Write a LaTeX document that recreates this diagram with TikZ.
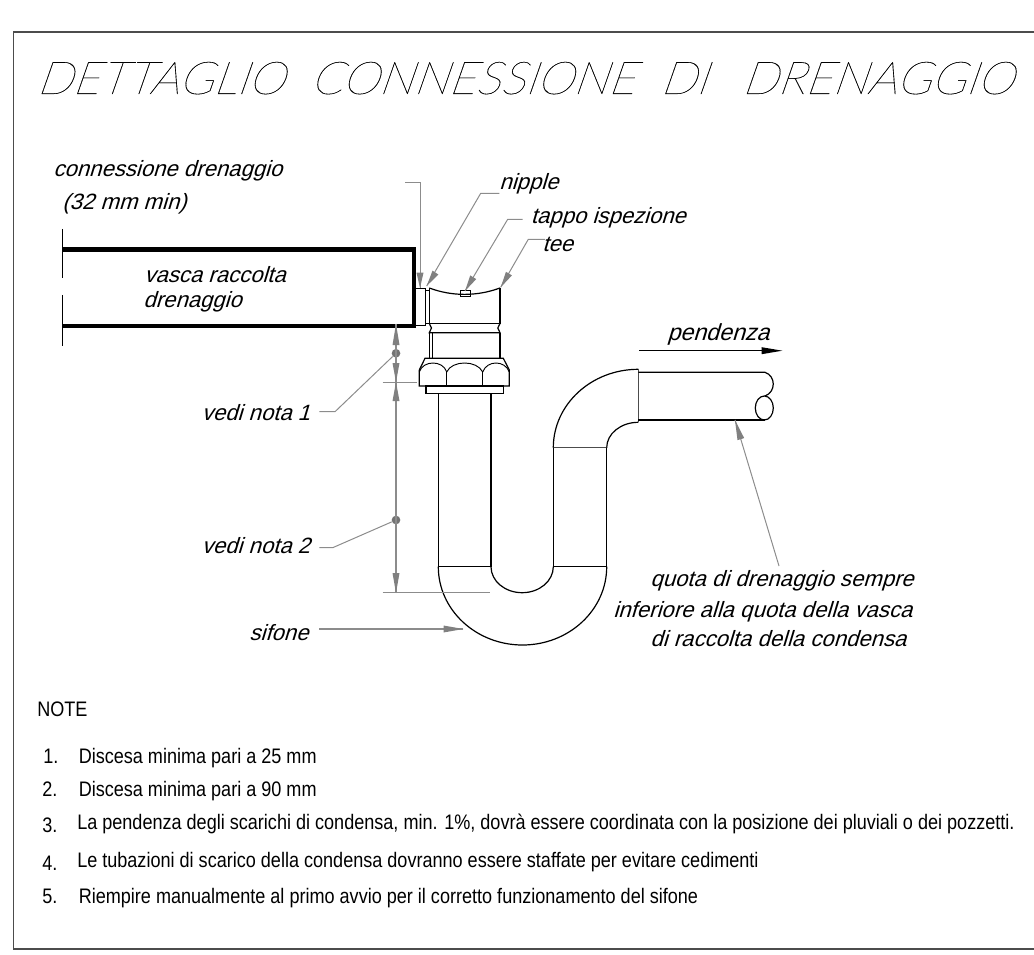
\documentclass[tikz,border=0pt]{standalone}
\usepackage{fontspec}
\setmainfont{Liberation Sans}
\newfontfamily\labelfont[FakeSlant=0.3]{Liberation Sans}
\newfontfamily\notefont[FakeStretch=0.86]{Liberation Sans}
\newfontfamily\titlefont[FakeSlant=0.35,FakeStretch=1.03,FakeBold=0.25]{Lato Hairline}
\tikzset{
  pipeline/.style={draw=black,line width=0.9pt},
  thinline/.style={draw=black,line width=0.7pt},
  leader/.style={draw=black!45,line width=0.75pt},
  dimhead/.style={fill=black!50,draw=none},
  dimdot/.style={circle,fill=black!55,draw=none,inner sep=0pt,minimum size=6.5pt},
  calllabel/.style={font=\labelfont\fontsize{16.6}{18}\selectfont,inner sep=0pt,anchor=base west},
  notelabel/.style={font=\notefont\fontsize{15.75}{17}\selectfont,inner sep=0pt,anchor=base west},
}
\newcommand{\dimtip}[2]{\fill[dimhead] (#1) -- ([shift={(-3.5,#2)}]#1) -- ([shift={(3.5,#2)}]#1) -- cycle;}
\begin{document}
\begin{tikzpicture}[x=0.75pt,y=0.75pt,yscale=-1,xscale=1]
\useasboundingbox (0,0) rectangle (1034,955);

%Shape: Frame
\draw [draw=black!70,line width=0.8pt] (1034,32) -- (13.5,32) -- (13.5,949) -- (1034,949);

% Text Node
\draw (36,94) node [anchor=base west,inner sep=0pt] (titlelabel) {\titlefont\fontsize{34}{36}\selectfont DETTAGLIO\hspace{19.5pt}CONNESSIONE\hspace{19pt}DI\hspace{26pt}DRENAGGIO};

%Shape: Tank
\draw [line width=3.4pt,line cap=butt,line join=miter] (62,249.5) -- (414,249.5) -- (414,326) -- (62,326);
\draw [thinline] (62,229) -- (62,278) (62,295) -- (62,346);

%Shape: Nipple
\draw [thinline] (416,288.3) -- (425,288.3) -- (425,325.7) -- (416,325.7);
\draw [thinline] (425,290) -- (429.3,290) (425,323.3) -- (429.3,323.3);

%Shape: Tee
\draw [pipeline] (429.3,288) .. controls (452,296.5) and (477,296.5) .. (500,288);
\draw [pipeline] (429.3,288) -- (429.3,323.5) -- (500,323.5) -- (500,288);
\draw [pipeline] (429.3,323.5) -- (431.5,328) -- (429.3,332.7) -- (500,332.7) -- (497.8,328) -- (500,323.5);
\draw [pipeline] (429.3,332.7) -- (429.3,358) (500,332.7) -- (500,358);
\draw [thinline] (432.7,332.7) -- (432.7,358);
\draw [thinline] (460,290.7) rectangle (470,296);

%Shape: Nut
\draw [pipeline] (425,358.3) -- (503.3,358.3) -- (509.3,370) -- (509.3,386) -- (419.3,386) -- (419.3,370) -- cycle;
\draw [thinline] (419.3,372) .. controls (423,360) and (443,360) .. (446.7,372) .. controls (452,360) and (477,360) .. (482.7,372) .. controls (487,360) and (505,360) .. (509.3,372);
\draw [thinline] (446.7,372) -- (446.7,386) (482.7,372) -- (482.7,386);
\draw [pipeline] (426,386) rectangle (503.3,393.3);

%Shape: Trap
\draw [pipeline] (438.3,393.3) -- (438.3,566.7) (491,393.3) -- (491,566.7);
\draw [thinline] (438.3,566.7) -- (491,566.7) (553.3,566.7) -- (606.7,566.7);
\draw [pipeline] (438.3,566.7) arc [start angle=180,end angle=360,x radius=84.2,y radius=-78.3];
\draw [pipeline] (491,566.7) arc [start angle=180,end angle=360,x radius=31.15,y radius=-26];
\draw [pipeline] (553.3,566.7) -- (553.3,447.7) (606.7,566.7) -- (606.7,447.7);
\draw [draw=black!70,line width=1.1pt] (553.3,447.7) -- (606.7,447.7);

%Shape: Elbow
\draw [pipeline] (553.3,447.7) arc [start angle=180,end angle=90,x radius=85,y radius=-78.4];
\draw [pipeline] (606.7,447.7) arc [start angle=180,end angle=90,x radius=31.6,y radius=-25.4];
\draw [draw=black!70,line width=1.1pt] (638.3,369.3) -- (638.3,422.3);

%Shape: Drain pipe
\draw [pipeline] (638.3,372.3) -- (765,372.3) .. controls (776,376) and (776,392) .. (765,396);
\draw [pipeline] (638.3,420) -- (765,420);
\draw [pipeline] (764.3,408) ellipse [x radius=9,y radius=12];

%Shape: Slope arrow
\draw [black,line width=0.7pt] (639.3,350.7) -- (765,350.7);
\fill [black] (782.3,350.7) -- (761.7,347.2) -- (761.7,354.2) -- cycle;

% Text Node
\draw (53,176.7) node [calllabel] (connlabel) {connessione drenaggio};
% Text Node
\draw (62,209.3) node [calllabel] (connminlabel) {(32 mm min)};
% Text Node
\draw (144,283) node [calllabel] (tanklabel) {vasca raccolta};
% Text Node
\draw (143,308) node [calllabel] (tanklabelb) {drenaggio};
% Text Node
\draw (499,190) node [calllabel] (nipplelabel) {nipple};
% Text Node
\draw (530.5,224) node [calllabel] (tappolabel) {tappo ispezione};
% Text Node
\draw (542,252) node [calllabel] (teelabel) {tee};
% Text Node
\draw (667,340.7) node [calllabel,font=\labelfont\fontsize{17.4}{18}\selectfont] (pendenzalabel) {pendenza};
% Text Node
\draw (201.5,420) node [calllabel] (notaalabel) {vedi nota 1};
% Text Node
\draw (201.5,553) node [calllabel] (notablabel) {vedi nota 2};
% Text Node
\draw (249,640) node [calllabel] (sifonelabel) {sifone};
% Text Node
\draw (650,586) node [calllabel] (quotaalabel) {quota di drenaggio sempre};
% Text Node
\draw (613,617) node [calllabel] (quotablabel) {inferiore alla quota della vasca};
% Text Node
\draw (650,646.7) node [calllabel] (quotaclabel) {di raccolta della condensa};

%Straight Lines
\coordinate (conntip) at (420,288);
\coordinate (nippletip) at (426.7,286);
\coordinate (tappotip) at (465,291);
\coordinate (teetip) at (500.7,287.3);
\coordinate (quotatip) at (735,420);
\coordinate (sifonetip) at (463.3,629);
\node [dimdot] (notaadot) at (396,353.3) {};
\node [dimdot] (notabdot) at (396,520) {};

\draw [leader] (405,182.3) -- (420,182.3) -- (conntip);
\draw [leader] (499.3,193.3) -- (480.7,193.3) -- (nippletip);
\draw [leader] (522.7,219.3) -- (507.7,219.3) -- (tappotip);
\draw [leader] (545,239.3) -- (528.3,239.3) -- (teetip);
\draw [leader] (779,566) -- (quotatip);
\draw [leader,line width=1pt] (319.3,629) -- (sifonetip);
\draw [leader] (319.3,411.7) -- (335,411.7) -- (notaadot);
\draw [leader] (319.3,547.7) -- (332.7,547.7) -- (notabdot);
\fill [dimhead] (conntip) -- (416.5,272.7) -- (423.5,272.7) -- cycle;
\fill [dimhead,rotate around={33:(nippletip)}] (nippletip) -- ++(-3.5,-16) -- ++(7,0) -- cycle;
\fill [dimhead,rotate around={31:(tappotip)}] (tappotip) -- ++(-3.5,-16) -- ++(7,0) -- cycle;
\fill [dimhead,rotate around={31:(teetip)}] (teetip) -- ++(-3.5,-16) -- ++(7,0) -- cycle;
\fill [dimhead,rotate around={-17:(quotatip)}] (quotatip) -- ++(-3.5,20) -- ++(7,0) -- cycle;
\fill [dimhead] (sifonetip) -- (443.5,625.5) -- (443.5,632.5) -- cycle;

%Shape: Dimension lines
\draw [leader,line width=1pt] (396,324) -- (396,593);
\draw [leader] (382.7,382) -- (416.7,382) (382.7,592.3) -- (490,592.3);
\coordinate (dimtop) at (396,324);
\coordinate (dimmid) at (396,382);
\coordinate (dimbot) at (396,593);
\dimtip{dimtop}{21}
\dimtip{dimmid}{-19}
\dimtip{dimmid}{19}
\dimtip{dimbot}{-20}

% Text Node
\draw (37,716) node [notelabel] (notehead) {NOTE};
% Text Node
\draw (43,763) node [notelabel] (numa) {1.};
\draw (78.5,763) node [notelabel] (notea) {Discesa minima pari a 25 mm};
% Text Node
\draw (42,796.7) node [notelabel] (numb) {2.};
\draw (78.5,796.7) node [notelabel] (noteb) {Discesa minima pari a 90 mm};
% Text Node
\draw (42,832) node [notelabel] (numc) {3.};
\draw (77,829) node [notelabel] (notec) {La pendenza degli scarichi di condensa, min. 1\%, dovrà essere coordinata con la posizione dei pluviali o dei pozzetti.};
% Text Node
\draw (42,870) node [notelabel] (numd) {4.};
\draw (77,867) node [notelabel] (noted) {Le tubazioni di scarico della condensa dovranno essere staffate per evitare cedimenti};
% Text Node
\draw (42,903.3) node [notelabel] (nume) {5.};
\draw (78.5,903.3) node [notelabel] (notee) {Riempire manualmente al primo avvio per il corretto funzionamento del sifone};

\end{tikzpicture}
\end{document}
